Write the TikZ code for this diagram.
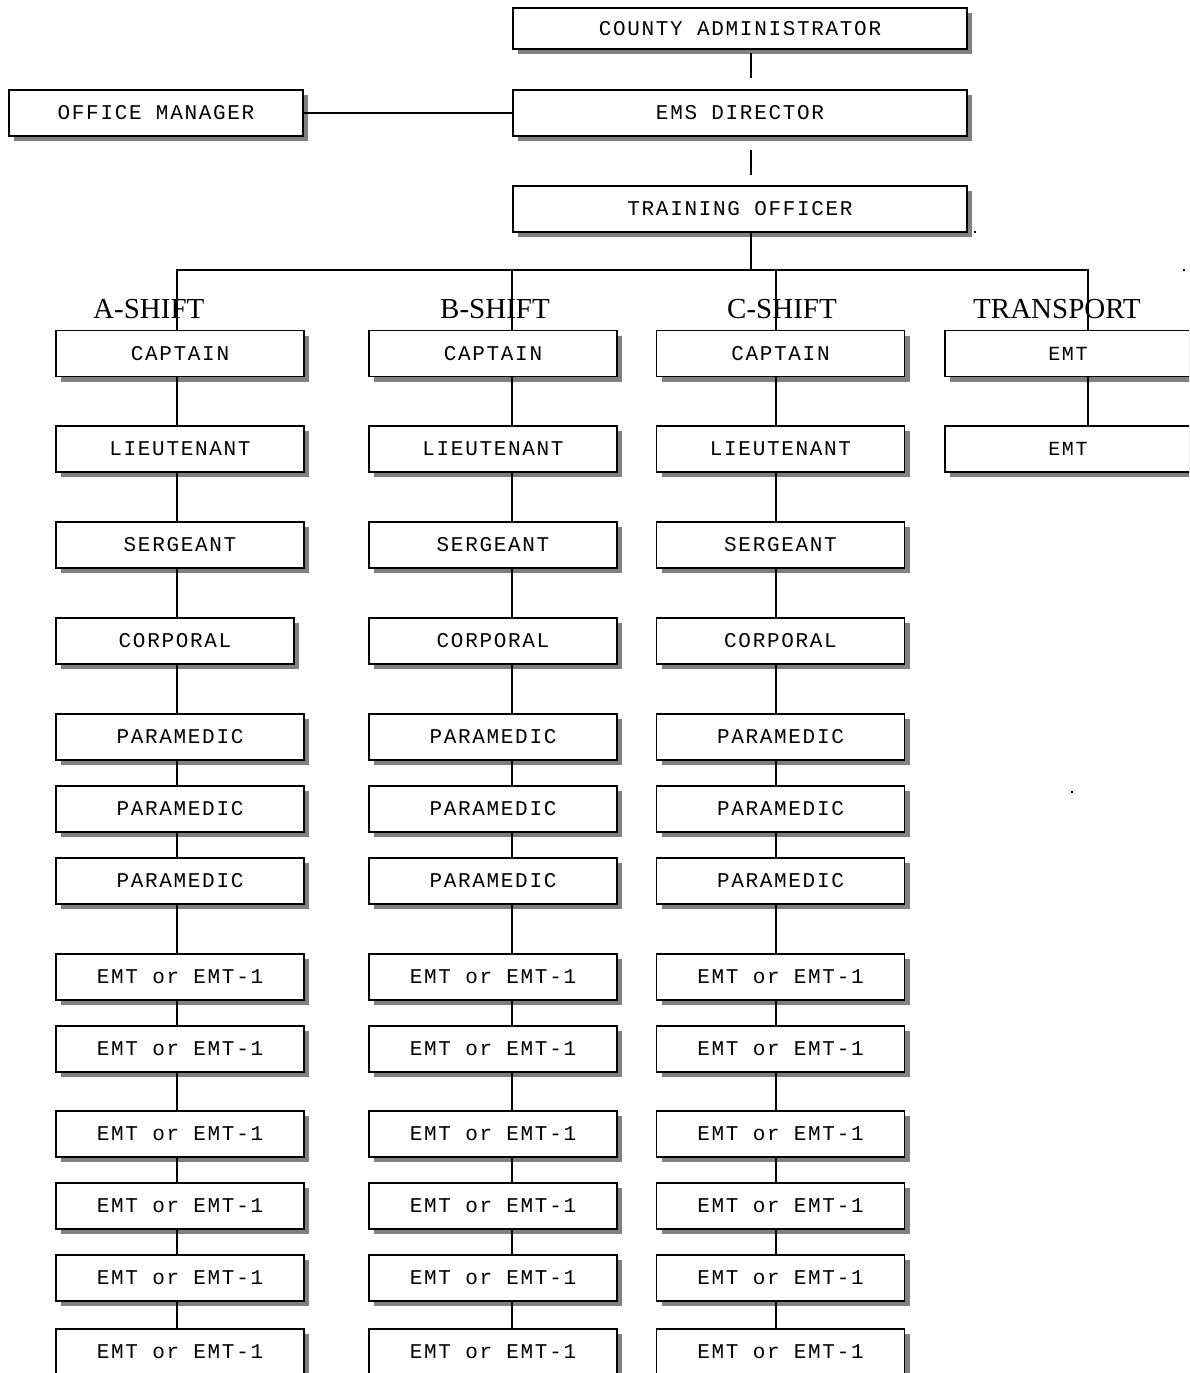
\documentclass[tikz,border=0pt]{standalone}
\usepackage{fontspec}
\newfontfamily\boxfont[LetterSpace=8]{Liberation Mono}
\newfontfamily\shiftfont{Liberation Serif}
\usetikzlibrary{shadows}
\tikzset{
  orgbox/.style={draw, line width=1.6pt, fill=white, minimum height=46pt, inner sep=0pt,
    font=\boxfont\fontsize{21}{26}\selectfont,
    drop shadow={shadow xshift=5pt, shadow yshift=-5pt, fill=black!50, opacity=1}},
  link/.style={line width=1.6pt},
  shiftlabel/.style={font=\shiftfont\fontsize{29}{32}\selectfont, inner sep=0pt, anchor=base west},
  speck/.style={fill=black}
}
\begin{document}
\begin{tikzpicture}[x=1pt,y=-1pt]
\useasboundingbox (0,0) rectangle (1189,1373);
\clip (0,0) rectangle (1189,1373);
\fill[white] (0,0) rectangle (1189,1373);

% top nodes
\node[orgbox, minimum width=454pt, minimum height=41pt] (CA) at (740,28.5) {COUNTY ADMINISTRATOR};
\node[orgbox, minimum width=454pt] (EMS) at (740,113) {EMS DIRECTOR};
\node[orgbox, minimum width=454pt] (TO) at (740,209) {TRAINING OFFICER};
\node[orgbox, minimum width=294pt] (OM) at (156,113) {OFFICE MANAGER};

% column line coordinates
\coordinate (Tx) at (751,0);
\coordinate (bus) at (0,270);
\coordinate (Ax) at (177,0);
\coordinate (Bx) at (512,0);
\coordinate (Cx) at (776,0);
\coordinate (Rx) at (1088,0);

% shift columns
\foreach \c/\cx in {A/180, B/493, C/780.5} {
  \foreach \r/\y/\t in {1/353.5/CAPTAIN, 2/449/LIEUTENANT, 3/545/SERGEANT, 4/641/CORPORAL,
      5/737/PARAMEDIC, 6/809/PARAMEDIC, 7/881/PARAMEDIC,
      8/977/{EMT or EMT-1}, 9/1049/{EMT or EMT-1}, 10/1134/{EMT or EMT-1},
      11/1206/{EMT or EMT-1}, 12/1278/{EMT or EMT-1}, 13/1352/{EMT or EMT-1}} {
    \def\w{248}\edef\xx{\cx}
    \ifnum\r=4 \if\c A\def\w{238}\def\xx{175}\fi\fi
    \node[orgbox, minimum width=\w pt] (\c\r) at (\xx,\y) {\t};
  }
}
\foreach \c in {A,B,C} {
  \foreach \r in {2,...,13} {
    \pgfmathtruncatemacro\p{\r-1}
    \draw[link] (\c\p.south -| \c x) -- (\c\r.north -| \c x);
  }
}

% transport column
\node[orgbox, minimum width=246pt, font=\boxfont\fontsize{20}{24}\selectfont] (T1) at (1068,353.5) {EMT};
\node[orgbox, minimum width=246pt, font=\boxfont\fontsize{20}{24}\selectfont] (T2) at (1068,449) {EMT};
\draw[link] (T1.south -| Rx) -- (T2.north -| Rx);

% shift labels
\node[shiftlabel] (LA) at (93,318) {A-SHIFT};
\node[shiftlabel] (LB) at (440,318) {B-SHIFT};
\node[shiftlabel] (LC) at (727,318) {C-SHIFT};
\node[shiftlabel] (LT) at (973,318) {TRANSPORT};

% connectors
\draw[link, shorten <=3pt, shorten >=11pt] (CA.south -| Tx) -- (EMS.north -| Tx);
\draw[link, shorten <=13pt, shorten >=10pt] (EMS.south -| Tx) -- (TO.north -| Tx);
\draw[link] (OM.east) -- (EMS.west);
\draw[link] (TO.south -| Tx) -- (Tx |- bus);
\draw[link] (A1.north -| Ax) -- (Ax |- bus) -- (Rx |- bus) -- (T1.north -| Rx);
\draw[link] (Bx |- bus) -- (B1.north -| Bx);
\draw[link] (Cx |- bus) -- (C1.north -| Cx);

% stray specks
\fill[speck] (974,231) rectangle +(2,2);
\fill[speck] (1183,269) rectangle +(2,2);
\fill[speck] (1071,791) rectangle +(2,2);
\end{tikzpicture}
\end{document}
